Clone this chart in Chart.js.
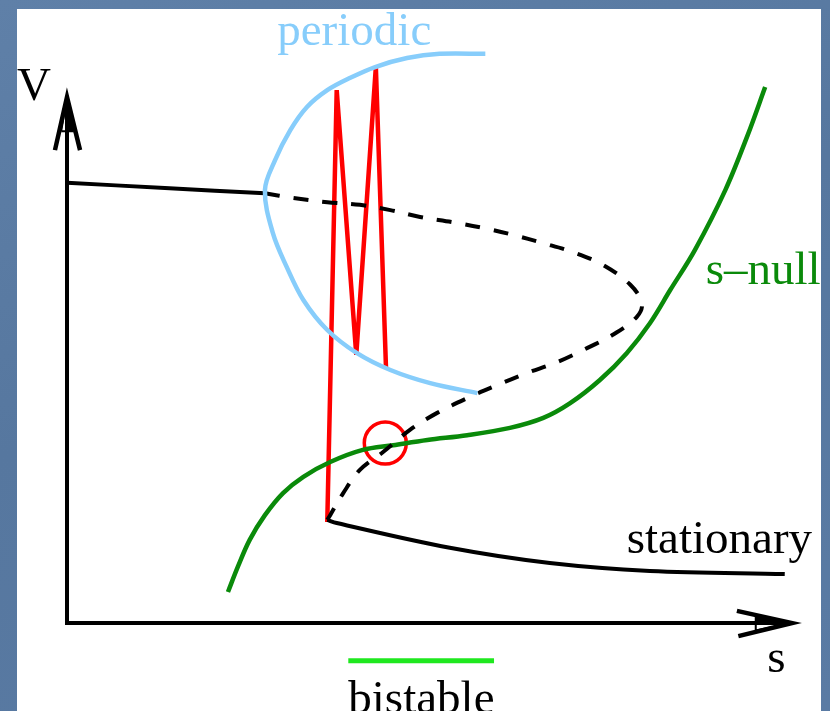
<!DOCTYPE html>
<html>
<head>
<meta charset="utf-8">
<script src="https://cdn.jsdelivr.net/npm/chart.js@4/dist/chart.umd.min.js"></script>
<style>
  html, body { margin: 0; padding: 0; }
  body {
    width: 830px; height: 711px; overflow: hidden;
    background: linear-gradient(160deg, #5f80a8 0%, #56779f 45%, #5a7ba4 100%);
    position: relative;
  }
  #panel {
    position: absolute; left: 17px; top: 9px; width: 804px; height: 702px;
    background: #ffffff;
  }
  #panel canvas { display: block; }
</style>
</head>
<body>
<div id="panel"><canvas id="c" width="804" height="702"></canvas></div>
<script>
// Phase plane (s, V): stationary branch, periodic orbit envelope, s-nullcline and a bursting trajectory.

// Stationary branch: stable upper part, unstable middle part (dashed), stable lower part
const stationaryUpperS = [0.00, 1.35, 2.73];
const stationaryUpperV = [8.37, 8.27, 8.17];

const unstableS = [2.73, 3.12, 3.59, 4.04, 4.46, 4.87, 5.32, 5.74, 6.15, 6.57, 6.98, 7.39, 7.77, 7.93,
                   7.86, 7.53, 7.12, 6.76, 6.34, 5.93, 5.56, 5.10, 4.73, 4.36, 4.04, 3.81, 3.63, 3.59];
const unstableV = [8.17, 8.08, 8.00, 7.95, 7.85, 7.72, 7.62, 7.51, 7.38, 7.22, 7.05, 6.81, 6.43, 6.08,
                   5.82, 5.48, 5.19, 4.96, 4.75, 4.52, 4.30, 3.99, 3.67, 3.25, 2.91, 2.47, 2.05, 1.96];

const stationaryLowerS = [3.59, 3.72, 5.28, 6.66, 8.04, 9.90];
const stationaryLowerV = [1.96, 1.90, 1.43, 1.14, 0.99, 0.93];

// Periodic orbit: max / min of V
const periodicS = [5.77, 5.14, 4.69, 4.25, 3.90, 3.59, 3.31, 3.08, 2.87, 2.73,
                   2.84, 3.03, 3.26, 3.59, 4.00, 4.46, 5.01, 5.66];
const periodicV = [10.82, 10.82, 10.74, 10.57, 10.36, 10.13, 9.81, 9.37, 8.80, 8.23,
                   7.41, 6.77, 6.14, 5.57, 5.13, 4.81, 4.56, 4.37];

// s-nullcline
const sNullS = [2.22, 2.36, 2.52, 2.73, 2.98, 3.26, 3.63, 4.08, 4.50, 4.97, 5.52, 6.11, 6.57, 6.94,
                7.35, 7.72, 8.04, 8.32, 8.66, 9.08, 9.39, 9.63];
const sNullV = [0.59, 1.08, 1.58, 2.05, 2.47, 2.78, 3.06, 3.29, 3.38, 3.48, 3.57, 3.71, 3.90, 4.18,
                4.62, 5.13, 5.70, 6.33, 7.09, 8.23, 9.28, 10.19];

// Bursting trajectory (spikes)
const burstS = [3.59, 3.72, 3.99, 4.26, 4.40];
const burstV = [1.92, 10.13, 5.10, 10.57, 4.85];

// Intersection of the nullcline with the unstable branch
const fixedPointS = [4.39];
const fixedPointV = [3.42];

// Bistable range of s
const bistableS = [3.88, 5.89];
const bistableV = [-0.72, -0.72];

// Axis extents
const sMax = 10;
const vMax = 10;

const pts = (xs, ys) => xs.map((x, i) => ({ x: x, y: ys[i] }));

const BLACK = '#000000';
const RED = '#ff0000';
const SKY = '#87cdfb';
const GREEN = '#0a8a0a';
const LIME = '#1fe81f';

const labels = [
  { text: 'V', s: -0.69, v: 9.94, color: BLACK },
  { text: 'periodic', s: 2.90, v: 10.99, color: SKY },
  { text: 'stationary', s: 7.72, v: 1.33, color: BLACK },
  { text: 's\u2013null', s: 8.81, v: 6.44, color: GREEN },
  { text: 's', s: 9.66, v: -0.93, color: BLACK },
  { text: 'bistable', s: 3.88, v: -1.71, color: BLACK }
];

const textPlugin = {
  id: 'phaseLabels',
  afterDatasetsDraw(chart) {
    const ctx = chart.ctx;
    const xs = chart.scales.x, ys = chart.scales.y;
    ctx.save();
    ctx.font = '47px "Liberation Serif", "Times New Roman", serif';
    ctx.textBaseline = 'alphabetic';
    ctx.textAlign = 'left';
    labels.forEach(l => {
      ctx.fillStyle = l.color;
      ctx.fillText(l.text, xs.getPixelForValue(l.s), ys.getPixelForValue(l.v));
    });
    ctx.restore();
  }
};

const line = (data, color, width, extra) => Object.assign({
  data: data,
  showLine: true,
  borderColor: color,
  backgroundColor: color,
  borderWidth: width,
  pointRadius: 0,
  tension: 0.35,
  fill: false,
  clip: false
}, extra || {});

new Chart(document.getElementById('c'), {
  type: 'scatter',
  data: {
    datasets: [
      // axes
      line([{ x: 0, y: vMax }, { x: 0, y: 0 }, { x: sMax, y: 0 }], BLACK, 4, { tension: 0 }),
      line([{ x: -0.166, y: 8.99 }, { x: 0, y: vMax }, { x: 0.18, y: 8.99 }], BLACK, 4.5, { tension: 0 }),
      line([{ x: -0.08, y: 9.35 }, { x: 0, y: vMax }, { x: 0.08, y: 9.35 }, { x: -0.08, y: 9.35 }], BLACK, 2, { tension: 0, fill: 'shape' }),
      line([{ x: 9.24, y: 0.23 }, { x: sMax, y: 0 }, { x: 9.26, y: -0.25 }], BLACK, 4.5, { tension: 0 }),
      line([{ x: 9.5, y: 0.14 }, { x: sMax, y: 0 }, { x: 9.5, y: -0.14 }, { x: 9.5, y: 0.14 }], BLACK, 2, { tension: 0, fill: 'shape' }),
      // periodic envelope
      line(pts(periodicS, periodicV), SKY, 4.5),
      // stationary branch
      line(pts(stationaryUpperS, stationaryUpperV), BLACK, 4),
      line(pts(unstableS, unstableV), BLACK, 4, { borderDash: [15, 14] }),
      line(pts(stationaryLowerS, stationaryLowerV), BLACK, 4),
      // s-nullcline
      line(pts(sNullS, sNullV), GREEN, 4.5),
      // bursting trajectory
      line(pts(burstS, burstV), RED, 4.5, { tension: 0 }),
      // fixed point marker
      {
        data: pts(fixedPointS, fixedPointV),
        showLine: false,
        pointRadius: 21,
        pointStyle: 'circle',
        pointBorderColor: RED,
        pointBackgroundColor: 'rgba(0,0,0,0)',
        pointBorderWidth: 3.5,
        clip: false
      },
      // bistable interval
      line(pts(bistableS, bistableV), LIME, 5, { tension: 0, borderCapStyle: 'butt' })
    ]
  },
  options: {
    responsive: false,
    devicePixelRatio: 1,
    animation: false,
    events: [],
    layout: { padding: { left: 50, right: 29, top: 88, bottom: 88 } },
    plugins: { legend: { display: false }, tooltip: { enabled: false } },
    scales: {
      x: { type: 'linear', min: 0, max: sMax, display: false },
      y: { type: 'linear', min: 0, max: vMax, display: false }
    }
  },
  plugins: [textPlugin]
});
</script>
</body>
</html>
